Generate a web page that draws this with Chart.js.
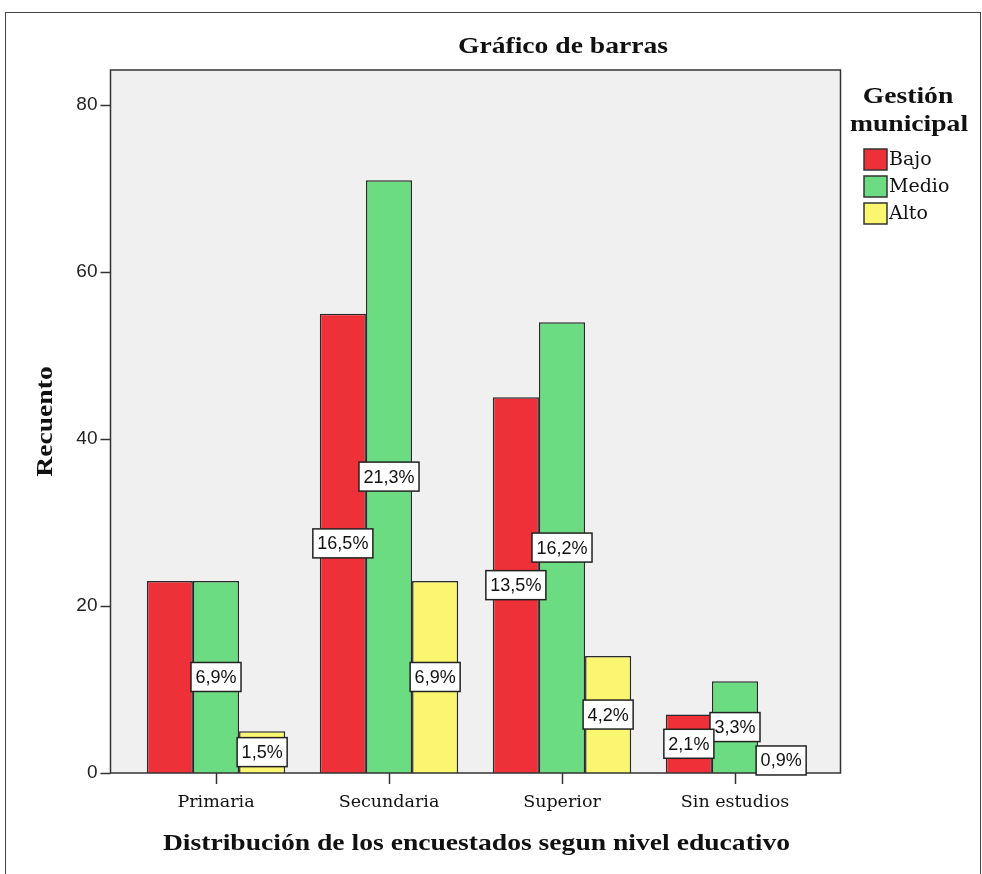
<!DOCTYPE html>
<html>
<head>
<meta charset="utf-8">
<script src="https://cdn.jsdelivr.net/npm/chart.js@4.4.1/dist/chart.umd.min.js"></script>
<style>
  html, body { margin: 0; padding: 0; background: #fff; overflow: hidden; }
  #wrap { position: relative; width: 982px; height: 874px; }
  #frame { position: absolute; left: 5px; top: 12px; width: 974px; height: 900px; border: 1px solid #444; }
  canvas { position: absolute; left: 0; top: 0; }
</style>
</head>
<body>
<div id="wrap">
  <div id="frame"></div>
  <canvas id="chart" width="982" height="874"></canvas>
</div>
<script>
// categories and counts
const categories = ['Primaria', 'Secundaria', 'Superior', 'Sin estudios'];
const bajo = [23, 55, 45, 7];
const medio = [23, 71, 54, 11];
const alto = [5, 23, 14, 3];

// percentage labels shown inside the bars (null = no label drawn)
const pctBajo = [null, '16,5%', '13,5%', '2,1%'];
const pctMedio = ['6,9%', '21,3%', '16,2%', '3,3%'];
const pctAlto = ['1,5%', '6,9%', '4,2%', '0,9%'];

const yTicks = [0, 20, 40, 60, 80];

const colors = {
    bajo: 'rgb(238, 48, 56)',
    medio: 'rgb(108, 220, 130)',
    alto: 'rgb(250, 246, 112)'
};

const SERIF = '"Liberation Serif", "DejaVu Serif", serif';
const SLAB = '"DejaVu Serif", serif';
const SANS = '"Liberation Sans", Arial, sans-serif';

// the gray plot frame sticks out past the category scale on both sides
const FRAME_PAD = 19;
// the bold titles in the original are a bit wider than Liberation Serif
const STRETCH = 1.15;

function wideText(ctx, txt, x, y) {
    ctx.save();
    ctx.translate(x, y);
    ctx.scale(STRETCH, 1);
    ctx.fillText(txt, 0, 0);
    ctx.restore();
}

const framePlugin = {
    id: 'frame',
    beforeDraw(chart) {
        const { ctx, chartArea } = chart;
        ctx.save();
        ctx.fillStyle = '#f0f0f0';
        ctx.fillRect(chartArea.left - FRAME_PAD, chartArea.top,
            chartArea.width + FRAME_PAD * 2, chartArea.height);
        ctx.restore();
    },
    afterDatasetsDraw(chart) {
        const { ctx, chartArea, scales } = chart;
        const left = chartArea.left - FRAME_PAD;
        const right = chartArea.right + FRAME_PAD;
        ctx.save();
        ctx.strokeStyle = '#333';
        ctx.lineWidth = 1.5;
        ctx.strokeRect(left, chartArea.top, right - left, chartArea.height);

        // y tick marks on the frame edge
        yTicks.forEach(v => {
            const y = Math.round(scales.y.getPixelForValue(v)) + 0.5;
            ctx.beginPath();
            ctx.moveTo(left - 10, y);
            ctx.lineTo(left, y);
            ctx.stroke();
        });

        // percentage boxes, drawn back to front like the original
        ctx.font = '18px ' + SANS;
        ctx.textAlign = 'center';
        ctx.textBaseline = 'middle';
        const order = [2, 1, 0];
        const texts = [pctBajo, pctMedio, pctAlto];
        order.forEach(di => {
            const meta = chart.getDatasetMeta(di);
            meta.data.forEach((bar, i) => {
                const txt = texts[di][i];
                if (!txt) return;
                const mid = (bar.y + bar.base) / 2;
                const w = ctx.measureText(txt).width + 9;
                const h = 29;
                ctx.fillStyle = '#fff';
                ctx.fillRect(bar.x - w / 2, mid - h / 2, w, h);
                ctx.strokeStyle = '#222';
                ctx.lineWidth = 1.5;
                ctx.strokeRect(bar.x - w / 2, mid - h / 2, w, h);
                ctx.fillStyle = '#111';
                ctx.fillText(txt, bar.x, mid + 1);
            });
        });
        ctx.restore();
    },
    afterDraw(chart) {
        const { ctx, chartArea } = chart;
        ctx.save();
        ctx.fillStyle = '#111';
        ctx.textAlign = 'center';
        ctx.textBaseline = 'middle';

        // titles
        ctx.font = 'bold 24px ' + SERIF;
        wideText(ctx, 'Gráfico de barras', 563, 47);
        wideText(ctx, 'Distribución de los encuestados segun nivel educativo',
            (chartArea.left + chartArea.right) / 2 + 1, 844);

        ctx.save();
        ctx.translate(46, (chartArea.top + chartArea.bottom) / 2);
        ctx.rotate(-Math.PI / 2);
        wideText(ctx, 'Recuento', 0, 0);
        ctx.restore();

        // legend
        wideText(ctx, 'Gestión', 908, 97);
        wideText(ctx, 'municipal', 909, 125);
        const items = [['Bajo', colors.bajo], ['Medio', colors.medio], ['Alto', colors.alto]];
        ctx.textAlign = 'left';
        ctx.font = '19px ' + SLAB;
        items.forEach((it, i) => {
            const y = 149 + i * 27;
            ctx.fillStyle = it[1];
            ctx.fillRect(864, y, 23, 21);
            ctx.strokeStyle = '#333';
            ctx.lineWidth = 1.5;
            ctx.strokeRect(864, y, 23, 21);
            ctx.fillStyle = '#111';
            ctx.fillText(it[0], 889, y + 11);
        });
        ctx.restore();
    }
};

const ds = (label, data, color) => ({
    label: label,
    data: data,
    backgroundColor: color,
    borderColor: '#2a2a2a',
    borderWidth: 1.5,
    categoryPercentage: 0.8,
    barPercentage: 1.0
});

new Chart(document.getElementById('chart'), {
    type: 'bar',
    data: {
        labels: categories,
        datasets: [
            ds('Bajo', bajo, colors.bajo),
            ds('Medio', medio, colors.medio),
            ds('Alto', alto, colors.alto)
        ]
    },
    options: {
        responsive: false,
        animation: false,
        events: [],
        layout: {
            padding: { left: 0, right: 160.5, top: 70, bottom: 0 }
        },
        plugins: {
            legend: { display: false },
            title: { display: false },
            tooltip: { enabled: false }
        },
        scales: {
            x: {
                offset: true,
                grid: {
                    offset: false,
                    drawOnChartArea: false,
                    tickLength: 11,
                    tickWidth: 1.5,
                    tickColor: '#333'
                },
                border: { display: false },
                ticks: {
                    padding: 8,
                    color: '#111',
                    font: { family: SLAB, size: 17.5 }
                },
                afterFit: s => { s.height = 101; }
            },
            y: {
                min: 0,
                max: 84.2,
                grid: { display: false, drawTicks: false },
                border: { display: false },
                afterBuildTicks: s => {
                    s.ticks = yTicks.map(v => ({ value: v }));
                },
                ticks: {
                    padding: 32,
                    color: '#222',
                    font: { family: SANS, size: 19 }
                },
                afterFit: s => { s.width = 129.5; }
            }
        }
    },
    plugins: [framePlugin]
});
</script>
</body>
</html>
